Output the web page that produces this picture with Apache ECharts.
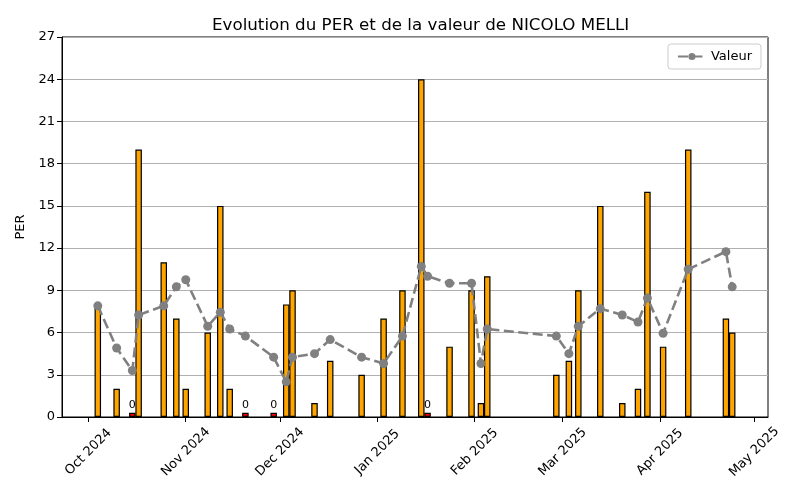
<!DOCTYPE html>
<html>
<head>
<meta charset="utf-8">
<script src="https://cdn.jsdelivr.net/npm/echarts@6/dist/echarts.min.js"></script>
<style>
  html, body { margin: 0; padding: 0; background: #fff; }
  #chart { width: 800px; height: 500px; }
</style>
</head>
<body>
<div id="chart"></div>
<script>
// dates of each observation
const dates = [
    '2024-10-04', '2024-10-10', '2024-10-15', '2024-10-17', '2024-10-25', '2024-10-29',
    '2024-11-01', '2024-11-08', '2024-11-12', '2024-11-15', '2024-11-20', '2024-11-29',
    '2024-12-03', '2024-12-05', '2024-12-12', '2024-12-17', '2024-12-27',
    '2025-01-03', '2025-01-09', '2025-01-15', '2025-01-17', '2025-01-24', '2025-01-31',
    '2025-02-03', '2025-02-05', '2025-02-27',
    '2025-03-03', '2025-03-06', '2025-03-13', '2025-03-20', '2025-03-25', '2025-03-28',
    '2025-04-02', '2025-04-10', '2025-04-22', '2025-04-24'
];

// PER (bars)
const per = [
    8, 2, 0, 19, 11, 7,
    2, 6, 15, 2, 0, 0,
    8, 9, 1, 4, 3,
    7, 9, 24, 0, 5, 9,
    1, 10, 3,
    4, 9, 15, 1, 2, 16,
    5, 19, 7, 6
];

// Valeur (dashed line)
const valeur = [
    7.9, 4.9, 3.3, 7.25, 7.9, 9.25,
    9.75, 6.45, 7.45, 6.25, 5.75, 4.25,
    2.5, 4.25, 4.5, 5.5, 4.25,
    3.8, 5.75, 10.7, 10.0, 9.5, 9.5,
    3.8, 6.25, 5.75,
    4.5, 6.45, 7.7, 7.25, 6.75, 8.45,
    5.95, 10.5, 11.75, 9.25
];

// x tick labels (month starts)
const monthTicks = [
    '2024-10-01', '2024-11-01', '2024-12-01', '2025-01-01',
    '2025-02-01', '2025-03-01', '2025-04-01', '2025-05-01'
];
const monthNames = ['Jan', 'Feb', 'Mar', 'Apr', 'May', 'Jun', 'Jul', 'Aug', 'Sep', 'Oct', 'Nov', 'Dec'];

const ts = (d) => Date.parse(d + 'T00:00:00Z');
const DAY = 86400000;
const zeroBarHeight = 0.3;

const font = 'DejaVu Sans';

const barData = dates.map((d, i) => {
    if (per[i] === 0) {
        return {
            value: [ts(d), zeroBarHeight],
            itemStyle: { color: '#ff0000' },
            label: { show: true, formatter: '0' }
        };
    }
    return { value: [ts(d), per[i]] };
});

const lineData = dates.map((d, i) => [ts(d), valeur[i]]);

const chart = echarts.init(document.getElementById('chart'), null, { renderer: 'canvas' });

const option = {
    animation: false,
    backgroundColor: '#ffffff',
    textStyle: { fontFamily: font },
    title: {
        text: 'Evolution du PER et de la valeur de NICOLO MELLI',
        left: 207,
        top: 12,
        textStyle: { fontFamily: font, fontSize: 16.7, fontWeight: 'normal', color: '#000' }
    },
    legend: {
        data: ['Valeur'],
        right: 39,
        top: 44,
        padding: [6, 9, 6, 9],
        itemWidth: 28,
        itemHeight: 9,
        itemGap: 8,
        borderColor: '#cccccc',
        borderWidth: 1,
        borderRadius: 3,
        textStyle: { fontFamily: font, fontSize: 13, color: '#000' }
    },
    grid: {
        left: 62,
        right: 32,
        top: 37,
        bottom: 83,
        show: true,
        borderColor: '#000',
        borderWidth: 1,
        backgroundColor: 'transparent'
    },
    xAxis: {
        type: 'value',
        min: ts('2024-09-22') + 0.6 * DAY,
        max: ts('2025-05-05') + 0.4 * DAY,
        axisLine: { show: true, onZero: false, lineStyle: { color: '#000', width: 1 } },
        axisTick: {
            show: true,
            length: 5,
            lineStyle: { color: '#000' },
            customValues: monthTicks.map(ts)
        },
        axisLabel: {
            rotate: 45,
            align: 'center',
            verticalAlign: 'middle',
            margin: 35,
            fontFamily: font,
            fontSize: 13,
            color: '#000',
            customValues: monthTicks.map(ts),
            formatter: (v) => {
                const d = new Date(v);
                return monthNames[d.getUTCMonth()] + ' ' + d.getUTCFullYear();
            }
        },
        splitLine: { show: false }
    },
    yAxis: {
        type: 'value',
        min: 0,
        max: 27,
        interval: 3,
        name: 'PER',
        nameLocation: 'middle',
        nameGap: 34,
        nameTextStyle: { fontFamily: font, fontSize: 13, color: '#000' },
        axisLine: { show: true, lineStyle: { color: '#000', width: 1 } },
        axisTick: { show: true, length: 5, lineStyle: { color: '#000' } },
        axisLabel: {
            fontFamily: font,
            fontSize: 13,
            color: '#000',
            margin: 7
        },
        splitLine: { show: true, lineStyle: { color: '#b0b0b0', width: 1 } }
    },
    series: [
        {
            name: 'PER',
            type: 'bar',
            barWidth: 6.5,
            data: barData,
            z: 2,
            itemStyle: {
                color: '#ffa500',
                borderColor: '#000',
                borderWidth: 1.2
            },
            label: {
                show: false,
                position: 'top',
                distance: 2,
                fontFamily: font,
                fontSize: 11,
                color: '#000'
            }
        },
        {
            name: 'Valeur',
            type: 'line',
            data: lineData,
            z: 3,
            symbol: 'circle',
            symbolSize: 9,
            showAllSymbol: true,
            itemStyle: { color: '#808080' },
            lineStyle: { color: '#808080', width: 2.6, type: [10, 4.5] }
        }
    ]
};

chart.setOption(option);
</script>
</body>
</html>
